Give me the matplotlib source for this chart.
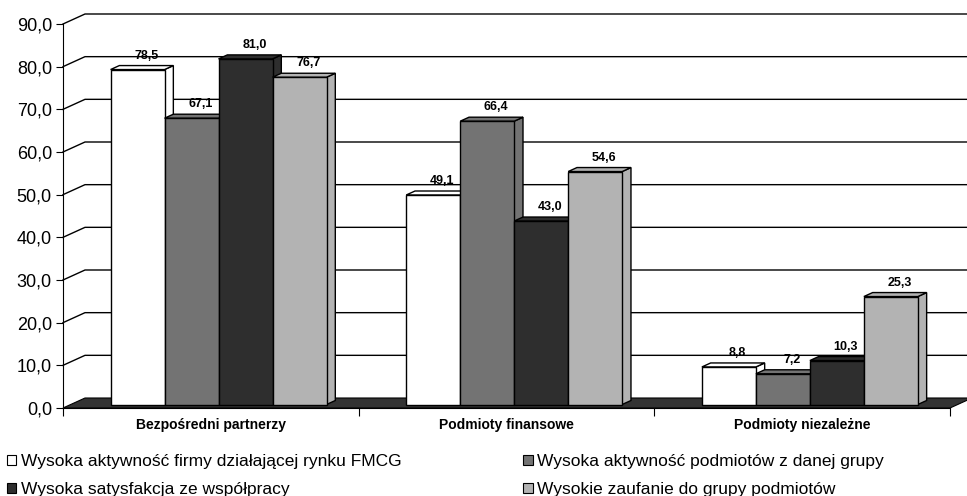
import matplotlib
matplotlib.use("Agg")
import matplotlib.pyplot as plt
from matplotlib.patches import Polygon, Patch
from matplotlib.transforms import IdentityTransform
from matplotlib.ticker import FuncFormatter

plt.rcParams["font.family"] = ["Liberation Sans", "DejaVu Sans"]

# Chart data
CATEGORIES = ["Bezpośredni partnerzy", "Podmioty finansowe", "Podmioty niezależne"]
SERIES = [
    "Wysoka aktywność firmy działającej rynku FMCG",
    "Wysoka aktywność podmiotów z danej grupy",
    "Wysoka satysfakcja ze współpracy",
    "Wysokie zaufanie do grupy podmiotów",
]
VALUES = [
    [78.5, 49.1, 8.8],
    [67.1, 66.4, 7.2],
    [81.0, 43.0, 10.3],
    [76.7, 54.6, 25.3],
]
COLORS = ["#ffffff", "#737373", "#2e2e2e", "#b3b3b3"]
Y_TICKS = [0, 10, 20, 30, 40, 50, 60, 70, 80, 90]

# pseudo-3D geometry (display pixels)
DEPTH_DX, DEPTH_DY = 22, 10
BAR_F0, BAR_F1 = 0.35, 0.75
BAR_W = 0.1826

W, H = 967, 496
fig = plt.figure(figsize=(W / 100, H / 100), dpi=100)
ax = fig.add_axes([63 / W, (H - 408) / H, 887 / W, 384 / H])
ax.set_xlim(0, 3)
ax.set_ylim(0, 90)
ax.patch.set_visible(False)


def pt(x, v, f):
    X, Y = ax.transData.transform((x, v))
    return (X + f * DEPTH_DX, Y + f * DEPTH_DY)


def poly(points, color, z, lw=1.0):
    p = Polygon(points, closed=True, facecolor=color, edgecolor="black",
                linewidth=lw, transform=IdentityTransform(), clip_on=False,
                zorder=z)
    fig.add_artist(p)
    return p


# back wall gridlines and left wall diagonals
for v in Y_TICKS[1:]:
    a = pt(0, v, 0)
    b = pt(0, v, 1)
    c = pt(3, v, 1)
    fig.add_artist(plt.Line2D([a[0], b[0], c[0]], [a[1], b[1], c[1]],
                              color="black", lw=1.0,
                              transform=IdentityTransform(), zorder=1))

# floor
poly([pt(0, 0, 0), pt(3, 0, 0), pt(3, 0, 1), pt(0, 0, 1)], "#333333", 1.5, lw=0.8)

# bars, drawn left to right so each front face covers the neighbour's side
z = 3
for gi in range(len(CATEGORIES)):
    start = gi + 0.5 - 2 * BAR_W
    for si in range(len(SERIES)):
        v = VALUES[si][gi]
        x0 = start + si * BAR_W
        x1 = x0 + BAR_W
        col = COLORS[si]
        # side
        poly([pt(x1, 0, BAR_F0), pt(x1, v, BAR_F0), pt(x1, v, BAR_F1),
              pt(x1, 0, BAR_F1)], col, z)
        # top
        poly([pt(x0, v, BAR_F0), pt(x1, v, BAR_F0), pt(x1, v, BAR_F1),
              pt(x0, v, BAR_F1)], col, z)
        # front
        poly([pt(x0, 0, BAR_F0), pt(x1, 0, BAR_F0), pt(x1, v, BAR_F0),
              pt(x0, v, BAR_F0)], col, z + 0.1)
        z += 0.2
        lx, ly = pt((x0 + x1) / 2, v, BAR_F1)
        fig.text(lx / W, (ly + 4) / H, f"{v:.1f}".replace(".", ","),
                 ha="center", va="bottom", fontsize=9, fontweight="bold")

# axes
for s in ("top", "right"):
    ax.spines[s].set_visible(False)
ax.spines["left"].set_zorder(10)
ax.spines["bottom"].set_zorder(10)
ax.set_yticks(Y_TICKS)
ax.yaxis.set_major_formatter(FuncFormatter(lambda v, _: f"{v:.1f}".replace(".", ",")))
ax.tick_params(axis="y", direction="out", length=5, labelsize=13, pad=3)
ax.set_xticks([0, 1, 2, 3])
ax.set_xticklabels([])
ax.set_xticks([0.5, 1.5, 2.5], minor=True)
ax.set_xticklabels(CATEGORIES, minor=True, fontsize=10, fontweight="bold")
ax.tick_params(axis="x", which="major", direction="out", length=6)
ax.tick_params(axis="x", which="minor", length=0, pad=7)

handles = [Patch(facecolor=c, edgecolor="black", linewidth=0.8) for c in COLORS]
order = [0, 2, 1, 3]
fig.legend([handles[i] for i in order], [SERIES[i] for i in order],
           ncol=2, loc="upper left", bbox_to_anchor=(0.0, (H - 447) / H),
           frameon=False, fontsize=12.5, handlelength=0.55, handleheight=0.55,
           handletextpad=0.25, labelspacing=0.75, columnspacing=7.0,
           borderaxespad=0)

fig.savefig("out.png", dpi=100)
